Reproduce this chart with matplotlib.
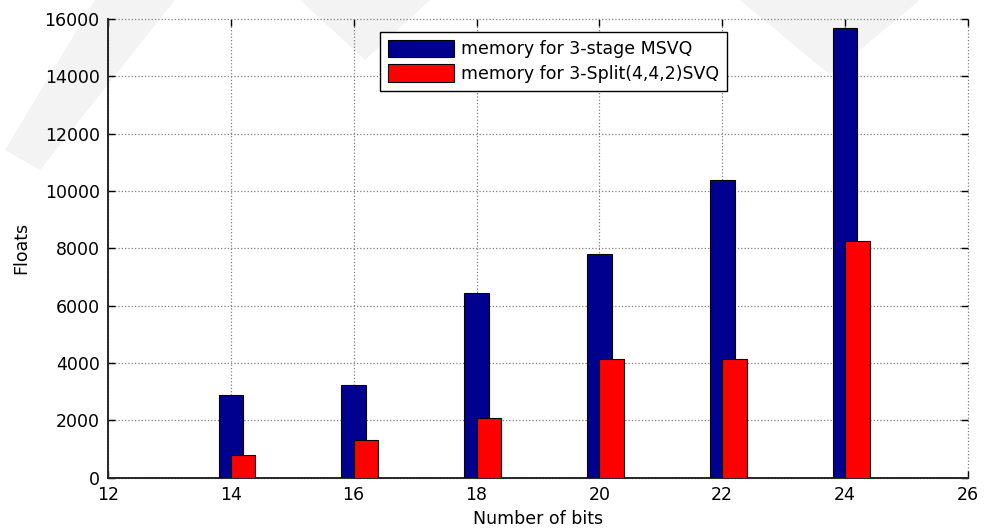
import matplotlib.pyplot as plt
from matplotlib.patches import Polygon

plt.rcParams['font.family'] = ['DejaVu Sans']

# data
bits = [14, 16, 18, 20, 22, 24]
msvq_mem = [2900, 3250, 6450, 7800, 10400, 15700]
svq_mem = [790, 1300, 2100, 4150, 4150, 8250]

labels = ['memory for 3-stage MSVQ', 'memory for 3-Split(4,4,2)SVQ']
xticks = [12, 14, 16, 18, 20, 22, 24, 26]
yticks = [0, 2000, 4000, 6000, 8000, 10000, 12000, 14000, 16000]

W, H = 986, 532
fig = plt.figure(figsize=(W / 100, H / 100), dpi=100)

# faint background watermark (pixel coords -> figure fraction)
wm = '#f3f3f3'
def px(pts):
    return [(x / W, 1 - y / H) for x, y in pts]

for pts in [[(95, 0), (175, 0), (40, 170), (5, 150)],
            [(300, 0), (430, 0), (365, 60)],
            [(740, 0), (920, 0), (830, 75)]]:
    fig.patches.append(Polygon(px(pts), closed=True, transform=fig.transFigure,
                               facecolor=wm, edgecolor='none', zorder=0))

ax = fig.add_axes([0.1095, 0.102, 0.8722, 0.8622], zorder=2)
ax.patch.set_alpha(0.0)

ax.bar(bits, msvq_mem, width=0.4, color='#00008f', edgecolor='black',
       linewidth=0.8, label=labels[0], zorder=3)
ax.bar(bits, svq_mem, width=0.4, align='edge', color='#ff0000',
       edgecolor='black', linewidth=0.8, label=labels[1], zorder=3)

ax.set_xlim(12, 26)
ax.set_ylim(0, 16000)
ax.set_xticks(xticks)
ax.set_yticks(yticks)

ax.grid(True, linestyle=':', color='#7f7f7f', linewidth=0.9)
ax.set_axisbelow(True)
# top and right grid lines act as the frame, so don't clip them
for gl in ax.get_xgridlines() + ax.get_ygridlines():
    gl.set_clip_on(False)

for side in ['top', 'right']:
    ax.spines[side].set_visible(False)
for side in ['left', 'bottom']:
    ax.spines[side].set_color('#262626')
    ax.spines[side].set_linewidth(1.4)

ax.tick_params(direction='in', top=True, right=True, length=5, width=1,
               labelsize=12.5, pad=6)
ax.tick_params(axis='y', pad=6)

ax.set_xlabel('Number of bits', fontsize=12.5, labelpad=4)
ax.set_ylabel('Floats', fontsize=12.5, labelpad=10)

leg = ax.legend(loc='upper left', bbox_to_anchor=(0.316, 0.972),
                fontsize=12.5, fancybox=False, framealpha=1,
                edgecolor='black', handlelength=3.85, handleheight=1.15,
                borderpad=0.45, labelspacing=0.35, handletextpad=0.4,
                borderaxespad=0)
leg.get_frame().set_linewidth(1.0)

fig.savefig('out.png', dpi=100)
